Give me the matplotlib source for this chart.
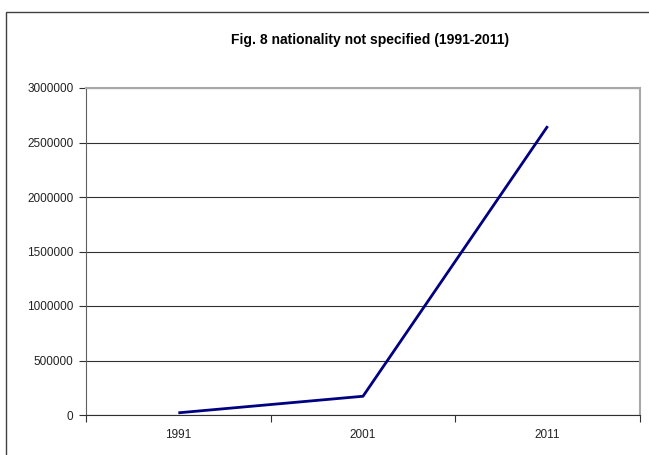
import matplotlib
matplotlib.use("Agg")
import matplotlib.pyplot as plt
from matplotlib.patches import Rectangle

years = ["1991", "2001", "2011"]
not_specified = [20000, 172000, 2650000]
y_ticks = [0, 500000, 1000000, 1500000, 2000000, 2500000, 3000000]

plt.rcParams["font.family"] = ["Liberation Sans Narrow", "Liberation Sans", "DejaVu Sans"]

fig = plt.figure(figsize=(6.49, 4.55), dpi=100)
W, H = 649, 455

# outer chart frame
fig.patches.append(Rectangle((6 / W, -0.1), 1.2, 1 - 12 / H + 0.1, transform=fig.transFigure,
                             fill=False, edgecolor="#404040", linewidth=1.0))

ax = fig.add_axes([86 / W, 40 / H, (640 - 86) / W, (415 - 88) / H])
x = range(len(years))
ax.plot(x, not_specified, color="#000080", linewidth=2.0, solid_capstyle="butt")

ax.set_xlim(-0.5, len(years) - 0.5)
ax.set_ylim(0, 3000000)
ax.set_yticks(y_ticks)
ax.set_yticklabels([str(v) for v in y_ticks])
ax.set_xticks(list(x))
ax.set_xticklabels(years)
ax.set_xticks([i - 0.5 for i in range(len(years) + 1)], minor=True)

ax.grid(axis="y", color="#303030", linewidth=0.8)
ax.set_axisbelow(True)
for side in ["top", "right"]:
    ax.spines[side].set_color("#a8a8a8")
    ax.spines[side].set_linewidth(1.5)
ax.spines["left"].set_color("#606060")
ax.spines["bottom"].set_color("#303030")

ax.tick_params(axis="y", length=5, width=0.8, color="#303030", labelsize=8.5, pad=4,
               labelcolor="#222222")
ax.tick_params(axis="x", which="major", length=0, labelsize=8.5, pad=10, labelcolor="#222222")
ax.tick_params(axis="x", which="minor", length=5, width=0.8, color="#303030")

fig.text(370 / W, 1 - 40 / H, "Fig. 8 nationality not specified (1991-2011)",
         ha="center", va="center", fontsize=10, fontweight="bold")

fig.savefig("out.png", dpi=100)
